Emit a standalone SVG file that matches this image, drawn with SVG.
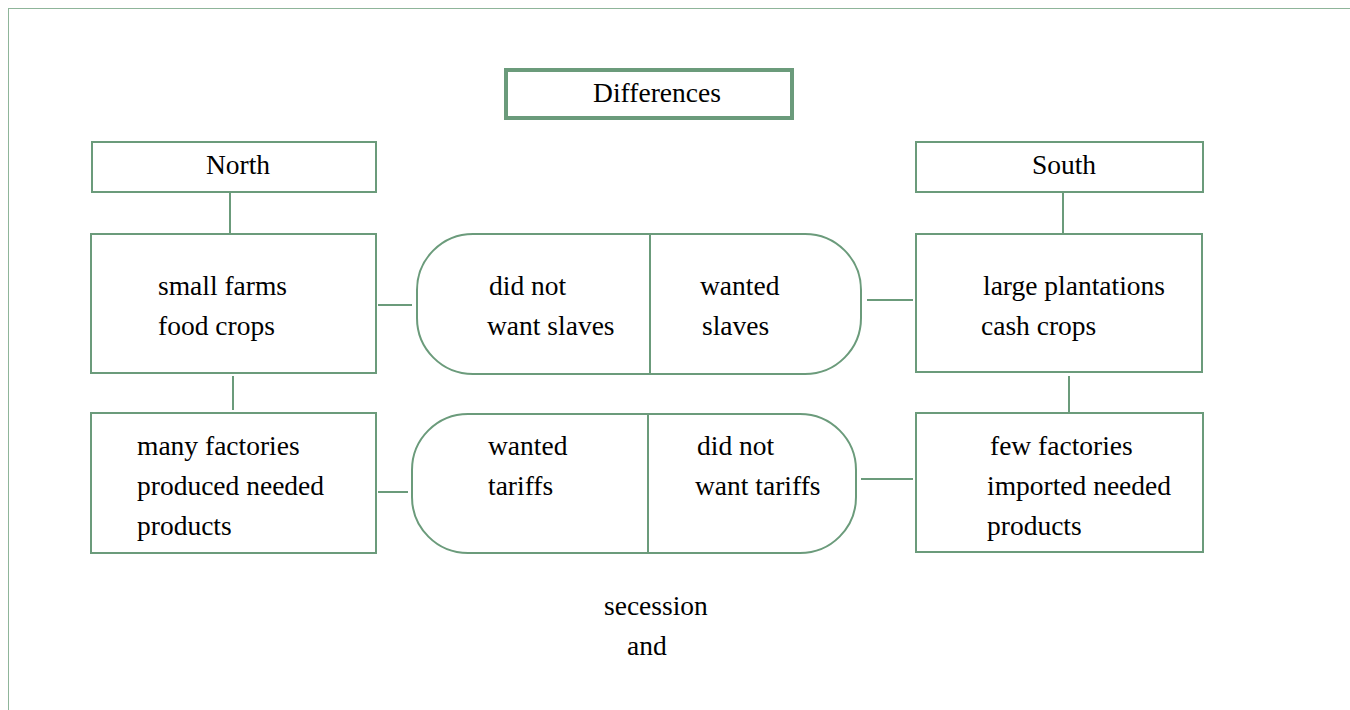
<svg xmlns="http://www.w3.org/2000/svg" width="1350" height="710" viewBox="0 0 1350 710">
<style>
.box{fill:#fff;stroke:#6b9b7b;stroke-width:2}
.ln{stroke:#6b9b7b;stroke-width:2;fill:none}
text{font-family:"Liberation Serif","Times New Roman",serif;font-size:27.5px;fill:#000}
.c{text-anchor:middle}
</style>
<rect x="8.5" y="8.5" width="1400" height="760" fill="#fff" stroke="#8fb59a" stroke-width="1"/>
<g id="connectors">
<line class="ln" x1="230" y1="193" x2="230" y2="233"/>
<line class="ln" x1="1063" y1="193" x2="1063" y2="233"/>
<line class="ln" x1="233" y1="376" x2="233" y2="410"/>
<line class="ln" x1="1069" y1="376" x2="1069" y2="412"/>
<line class="ln" x1="378" y1="305" x2="412" y2="305"/>
<line class="ln" x1="867" y1="300" x2="913" y2="300"/>
<line class="ln" x1="378" y1="492" x2="408" y2="492"/>
<line class="ln" x1="861" y1="479" x2="913" y2="479"/>
</g>
<g id="differences">
<rect x="506" y="70" width="286" height="48" fill="#fff" stroke="#6b9b7b" stroke-width="4"/>
<text class="c" x="657" y="102">Differences</text>
</g>
<g id="north">
<rect class="box" x="92" y="142" width="284" height="50"/>
<text class="c" x="238" y="174">North</text>
</g>
<g id="south">
<rect class="box" x="916" y="142" width="287" height="50"/>
<text class="c" x="1064" y="174">South</text>
</g>
<g id="north-farms">
<rect class="box" x="91" y="234" width="285" height="139"/>
<text x="158" y="295">small farms</text>
<text x="158" y="335">food crops</text>
</g>
<g id="slavery">
<rect class="box" x="417" y="234" width="444" height="140" rx="56" ry="56"/>
<line class="ln" x1="650" y1="234" x2="650" y2="374"/>
<text x="489" y="295">did not</text>
<text x="487" y="335">want slaves</text>
<text x="700" y="295">wanted</text>
<text x="702" y="335">slaves</text>
</g>
<g id="south-farms">
<rect class="box" x="916" y="234" width="286" height="138"/>
<text x="983" y="295">large plantations</text>
<text x="981" y="335">cash crops</text>
</g>
<g id="north-industry">
<rect class="box" x="91" y="413" width="285" height="140"/>
<text x="137" y="455">many factories</text>
<text x="137" y="495">produced needed</text>
<text x="137" y="535">products</text>
</g>
<g id="tariffs">
<rect class="box" x="412" y="414" width="444" height="139" rx="56" ry="56"/>
<line class="ln" x1="648" y1="414" x2="648" y2="553"/>
<text x="488" y="455">wanted</text>
<text x="488" y="495">tariffs</text>
<text x="697" y="455">did not</text>
<text x="695" y="495">want tariffs</text>
</g>
<g id="south-industry">
<rect class="box" x="916" y="413" width="287" height="139"/>
<text x="990" y="455">few factories</text>
<text x="987" y="495">imported needed</text>
<text x="987" y="535">products</text>
</g>
<g id="footer">
<text x="604" y="615">secession</text>
<text x="627" y="655">and</text>
</g>
</svg>
